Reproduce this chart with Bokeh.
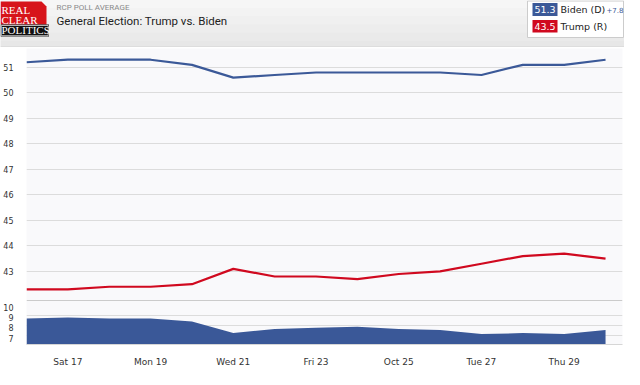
from bokeh.plotting import figure
from bokeh.layouts import column
from bokeh.models import FixedTicker, Range1d, Span, Label
from bokeh.embed import file_html
from bokeh.resources import INLINE

# ---- data ----
days = [16, 17, 18, 19, 20, 21, 22, 23, 24, 25, 26, 27, 28, 29, 30]
biden = [51.2, 51.3, 51.3, 51.3, 51.1, 50.6, 50.7, 50.8, 50.8, 50.8, 50.8, 50.7, 51.1, 51.1, 51.3]
trump = [42.3, 42.3, 42.4, 42.4, 42.5, 43.1, 42.8, 42.8, 42.7, 42.9, 43.0, 43.3, 43.6, 43.7, 43.5]
spread = [8.9, 9.0, 8.9, 8.9, 8.6, 7.5, 7.9, 8.0, 8.1, 7.9, 7.8, 7.4, 7.5, 7.4, 7.8]
tick_days = [17, 19, 21, 23, 25, 27, 29]
tick_labels = ["Sat 17", "Mon 19", "Wed 21", "Fri 23", "Oct 25", "Tue 27", "Thu 29"]
upper_ticks = [43, 44, 45, 46, 47, 48, 49, 50, 51]
lower_ticks = [7, 8, 9, 10]
lower_grid = [7.3, 8.25, 9.2]

BLUE = "#3b5998"
RED = "#d0091f"
GRID = "#dcdcdc"
PLOT_BG = "#f9f9fb"
W = 624

# ---- header ----
hdr = figure(width=W, height=47, x_range=Range1d(8, 632), y_range=Range1d(55, 8),
             output_backend="svg", toolbar_location=None, min_border=0,
             min_border_left=0, min_border_right=0, min_border_top=0, min_border_bottom=0,
             x_axis_location=None, y_axis_location=None, outline_line_color=None,
             background_fill_color="#eeeeee", border_fill_color="#eeeeee")
if "frame_align" in hdr.properties():
    hdr.frame_align = False
hdr.grid.visible = False
bands = ["#f6f6f6", "#f3f3f3", "#f0f0f0", "#ededed", "#eaeaea", "#e7e7e7"]
for i, c in enumerate(bands):
    hdr.quad(left=8, right=632, top=8 + i * 8, bottom=8 + (i + 1) * 8, color=c, line_color=None)
hdr.segment(x0=8, y0=54.5, x1=632, y1=54.5, line_color="#d2d2d2", line_width=1)

# logo
hdr.patch(x=[8, 49, 54, 54, 8], y=[9, 9, 14, 32, 32], color="#d7141a", line_color=None)
hdr.quad(left=8, right=56.5, top=32, bottom=44, color="#111111", line_color=None)
hdr.quad(left=8.8, right=55.7, top=33, bottom=43.2, fill_color=None, line_color="white", line_width=0.7)
for txt, yy in [("REAL", 17), ("CLEAR", 27), ("POLITICS", 37.8)]:
    hdr.add_layout(Label(x=9, y=yy, text=txt, text_color="white", text_font="Liberation Serif",
                         text_font_size="11px", text_baseline="middle"))

hdr.add_layout(Label(x=64, y=14.5, text="RCP POLL AVERAGE", text_color="#8a8a8a", text_font="Roboto",
                     text_font_size="8px", text_baseline="middle"))
hdr.add_layout(Label(x=64, y=28.5, text="General Election: Trump vs. Biden", text_color="#222222",
                     text_font="Roboto", text_font_size="11.5px", text_baseline="middle"))

# legend box
hdr.quad(left=535, right=631, top=8.5, bottom=45, fill_color="white", line_color="#cccccc")
hdr.quad(left=540, right=565, top=10.5, bottom=23.5, color=BLUE, line_color=None)
hdr.quad(left=540, right=565, top=27.5, bottom=40, color=RED, line_color=None)
hdr.add_layout(Label(x=552.5, y=17, text=f"{biden[-1]:.1f}", text_color="white", text_font="DejaVu Sans",
                     text_font_size="9.5px", text_align="center", text_baseline="middle"))
hdr.add_layout(Label(x=552.5, y=34, text=f"{trump[-1]:.1f}", text_color="white", text_font="DejaVu Sans",
                     text_font_size="9.5px", text_align="center", text_baseline="middle"))
hdr.add_layout(Label(x=568, y=17, text="Biden (D)", text_color="#222222", text_font="DejaVu Sans",
                     text_font_size="9.5px", text_baseline="middle"))
hdr.add_layout(Label(x=568, y=34, text="Trump (R)", text_color="#222222", text_font="DejaVu Sans",
                     text_font_size="9.5px", text_baseline="middle"))
hdr.add_layout(Label(x=614, y=17.5, text=f"+{spread[-1]:.1f}", text_color=BLUE, text_font="DejaVu Sans",
                     text_font_size="7px", text_baseline="middle"))

# ---- shared x range ----
xr = Range1d(16, 30.41)

# ---- upper panel: candidate averages ----
up = figure(width=W, height=253, x_range=xr, y_range=Range1d(41.86, 51.74),
            output_backend="svg", toolbar_location=None, x_axis_location=None,
            min_border_left=26, min_border_right=2, min_border_top=1, min_border_bottom=0,
            background_fill_color=PLOT_BG, border_fill_color="white", outline_line_color=None)
up.line(days, biden, line_color=BLUE, line_width=2.2)
up.line(days, trump, line_color=RED, line_width=2.2)
up.yaxis.ticker = FixedTicker(ticks=upper_ticks)
up.ygrid.ticker = FixedTicker(ticks=upper_ticks)
up.ygrid.grid_line_color = GRID
up.xgrid.visible = False

# ---- lower panel: spread ----
lo_top, lo_bottom = 10.63, 6.40
lo = figure(width=W, height=69, x_range=xr, y_range=Range1d(lo_bottom, lo_top),
            output_backend="svg", toolbar_location=None,
            min_border_left=26, min_border_right=2, min_border_top=0, min_border_bottom=17,
            background_fill_color=PLOT_BG, border_fill_color="white", outline_line_color=None)
lo.varea(x=days, y1=[lo_bottom] * len(days), y2=spread, fill_color="#3a5898")
lo.yaxis.ticker = FixedTicker(ticks=lower_ticks)
lo.ygrid.ticker = FixedTicker(ticks=lower_grid)
lo.ygrid.grid_line_color = GRID
lo.xgrid.visible = False
lo.add_layout(Span(location=lo_top, dimension="width", line_color="#9a9a9a", line_width=1.2))
lo.xaxis.ticker = FixedTicker(ticks=tick_days)
lo.xaxis.major_label_overrides = {d: l for d, l in zip(tick_days, tick_labels)}
lo.xaxis.axis_line_color = "#d6d6d6"
lo.xaxis.major_tick_line_color = None
lo.xaxis.minor_tick_line_color = None
lo.xaxis.major_label_standoff = 6
lo.xaxis.major_label_text_font = "DejaVu Sans"
lo.xaxis.major_label_text_font_size = "9px"
lo.xaxis.major_label_text_color = "#333333"

for f in (up, lo):
    ax = f.yaxis[0]
    ax.axis_line_color = None
    ax.major_tick_line_color = None
    ax.minor_tick_line_color = None
    ax.major_label_standoff = 7
    ax.major_label_text_font = "DejaVu Sans"
    ax.major_label_text_font_size = "8px"
    ax.major_label_text_color = "#333333"

layout = column(hdr, up, lo, spacing=0)
open("out.html", "w").write(file_html(layout, INLINE))
